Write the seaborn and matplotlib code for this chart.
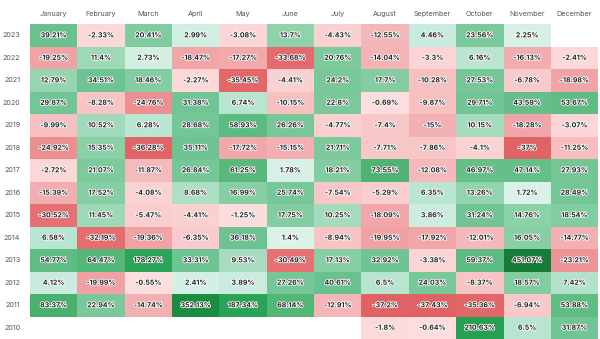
import numpy as np
import pandas as pd
import matplotlib
matplotlib.use("Agg")
import matplotlib.pyplot as plt
import matplotlib.colors as mcolors
import matplotlib.patheffects as pe
import seaborn as sns

sns.set_style("white")
plt.rcParams['font.family'] = ['Inter', 'DejaVu Sans']

months = ["January", "February", "March", "April", "May", "June", "July",
          "August", "September", "October", "November", "December"]
years = [2023, 2022, 2021, 2020, 2019, 2018, 2017, 2016, 2015, 2014, 2013, 2012, 2011, 2010]
nan = np.nan
r2023 = [39.21, -2.33, 20.41, 2.99, -3.08, 13.7, -4.43, -12.55, 4.46, 23.56, 2.25, nan]
r2022 = [-19.25, 11.4, 2.73, -18.47, -17.27, -33.68, 20.76, -14.04, -3.3, 6.16, -16.13, -2.41]
r2021 = [12.79, 34.51, 18.46, -2.27, -35.45, -4.41, 24.2, 17.7, -10.28, 27.53, -6.78, -18.98]
r2020 = [29.87, -8.28, -24.76, 31.38, 6.74, -10.15, 22.8, -0.69, -9.87, 29.71, 43.59, 53.67]
r2019 = [-9.99, 10.52, 6.28, 28.68, 58.93, 26.26, -4.77, -7.4, -15, 10.15, -18.28, -3.07]
r2018 = [-24.92, 15.35, -36.28, 35.11, -17.72, -15.15, 21.71, -7.71, -7.86, -4.1, -37, -11.25]
r2017 = [-2.72, 21.07, -11.87, 26.84, 61.25, 1.78, 18.21, 73.55, -12.08, 46.97, 47.14, 27.93]
r2016 = [-15.39, 17.52, -4.08, 8.68, 16.99, 25.74, -7.54, -5.29, 6.35, 13.26, 1.72, 28.49]
r2015 = [-30.52, 11.45, -5.47, -4.41, -1.25, 17.75, 10.25, -18.09, 3.86, 31.24, 14.76, 18.54]
r2014 = [6.58, -32.19, -19.36, -6.35, 36.18, 1.4, -8.94, -19.95, -17.92, -12.01, 16.05, -14.77]
r2013 = [54.77, 64.47, 178.27, 33.31, 9.53, -30.49, 17.13, 32.92, -3.38, 59.37, 451.07, -23.21]
r2012 = [4.12, -19.99, -0.55, 2.41, 3.89, 27.26, 40.61, 6.5, 24.03, -8.37, 18.57, 7.42]
r2011 = [83.37, 22.94, -14.74, 352.13, 187.34, 68.14, -12.91, -37.2, -37.43, -35.36, -6.94, 53.88]
r2010 = [nan, nan, nan, nan, nan, nan, nan, -1.8, -0.64, 210.63, 6.5, 31.87]

rows = [r2023, r2022, r2021, r2020, r2019, r2018, r2017, r2016, r2015,
        r2014, r2013, r2012, r2011, r2010]
df = pd.DataFrame(rows, index=years, columns=months)
annot = df.map(lambda v: "" if pd.isna(v) else f"{v:g}%")

L = np.log10(461.0)
def fwd(v):
    v = np.asarray(v, dtype=float)
    return np.where(v < 0, v / 40.0, np.log10(1 + np.abs(v)) / L)
def inv(y):
    y = np.asarray(y, dtype=float)
    return np.where(y < 0, y * 40.0, 10 ** (np.abs(y) * L) - 1)
norm = mcolors.FuncNorm((fwd, inv), vmin=-40, vmax=460, clip=True)

def n(v):
    return float((fwd(v) + 1) / 2)

nodes = [
    (0.0, "#dc5c5e"),
    (n(-37), "#e06466"),
    (n(-30), "#e67274"),
    (n(-25), "#ec8f90"),
    (n(-19), "#f0a4a6"),
    (n(-12), "#f5b9bb"),
    (n(-5), "#facfd0"),
    (0.4999, "#fde0e0"),
    (0.5, "#e0f5ec"),
    (n(2), "#d8f1e6"),
    (n(4.5), "#c7ebdc"),
    (n(6), "#bde7d3"),
    (n(10), "#a6dcbf"),
    (n(14), "#8fd3ab"),
    (n(22), "#7cc99c"),
    (n(35), "#6ec393"),
    (n(60), "#5cbb80"),
    (n(75), "#4db370"),
    (n(180), "#2ba659"),
    (n(350), "#1a8f42"),
    (1.0, "#167c37"),
]
cmap = mcolors.LinearSegmentedColormap.from_list("rg", nodes)

fig = plt.figure(figsize=(6.0, 3.39), dpi=100)
ax = fig.add_axes([0.05, 0.0, 0.947, 0.929])
sns.heatmap(df, annot=annot, fmt="", cmap=cmap, norm=norm, cbar=False, ax=ax,
            linewidths=0,
            annot_kws={"fontsize": 5, "fontweight": "bold", "color": "#1e1e1e"})
for t in ax.texts:
    t.set_path_effects([pe.withStroke(linewidth=1.2, foreground="white")])

ax.xaxis.tick_top()
ax.tick_params(axis="x", length=0, pad=5, labelsize=5.2, labelcolor="#555555")
ax.tick_params(axis="y", length=0, pad=7, labelsize=5.2, labelcolor="#555555")
ax.set_xticklabels(months, rotation=0)
ax.set_yticklabels([str(y) for y in years], rotation=0)
ax.set_xlabel("")
ax.set_ylabel("")

fig.savefig("out.png", dpi=100, facecolor="white")
